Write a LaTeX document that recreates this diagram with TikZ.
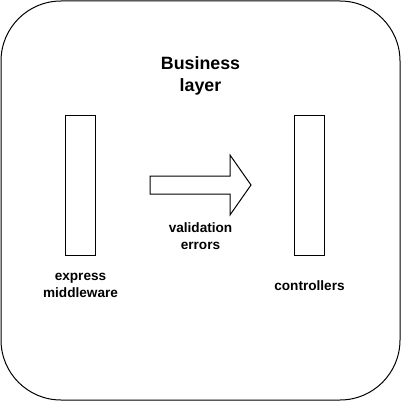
\documentclass[tikz,border=0pt]{standalone}
\usepackage{fontspec}
\setmainfont{Liberation Sans}
\usetikzlibrary{positioning}

\begin{document}
\begin{tikzpicture}
        [
            x=1pt, y=-1pt, line width=1pt,
            bar/.style={rectangle, draw, minimum width=30pt,
                        minimum height=140pt, inner sep=0pt, outer sep=0pt},
            lbl/.style={align=center, inner sep=0pt,
                        font=\bfseries\fontsize{13.6}{17}\selectfont}
        ]
        \useasboundingbox (0,0) rectangle (401,401);
        \node (frame) [draw, rounded corners=60pt, minimum width=399pt,
                       minimum height=399pt, inner sep=0pt] at (200.5,200.5) {};
        \node (title) [lbl, font=\bfseries\fontsize{17.8}{22}\selectfont]
            at (200.5,76) {Business\\layer};
        \node (mw) [bar] at (80.5,185) {};
        \node (ctrl) [bar, right=199pt of mw] {};
        \node (mwlbl) [lbl, below=17.5pt of mw] {express\\middleware};
        \node (ctrllbl) [lbl] at (ctrl |- mwlbl) {controllers};
        \node (errlbl) [lbl] at (200.5,236.5) {validation\\errors};
        % block arrow between the two layers
        \draw (150,176) -- (230,176) -- (230,155) -- (251,185)
              -- (230,215) -- (230,194) -- (150,194) -- cycle;
    \end{tikzpicture}
\end{document}
